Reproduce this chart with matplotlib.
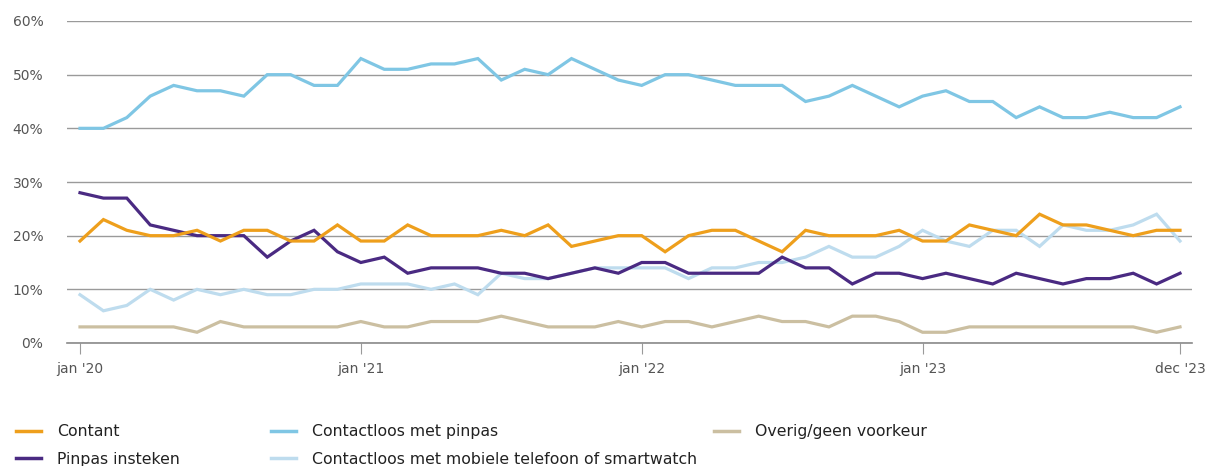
import matplotlib
matplotlib.use('Agg')
import matplotlib.pyplot as plt
from matplotlib.lines import Line2D
import numpy as np

# monthly survey, jan 2020 - dec 2023 (percent)
months = np.arange(48)
tick_pos = [0, 12, 24, 36, 47]
tick_labels = ["jan '20", "jan '21", "jan '22", "jan '23", "dec '23"]

contant = [19, 23, 21, 20, 20, 21, 19, 21, 21, 19, 19, 22, 19, 19,
           22, 20, 20, 20, 21, 20, 22, 18, 19, 20, 20, 17, 20, 21, 21, 19, 17,
           21, 20, 20, 20, 21, 19, 19, 22, 21, 20, 24, 22, 22, 21, 20, 21, 21]
pinpas_insteken = [28, 27, 27, 22, 21, 20, 20, 20, 16, 19, 21, 17, 15, 16,
                   13, 14, 14, 14, 13, 13, 12, 13, 14, 13, 15, 15, 13, 13, 13, 13, 16,
                   14, 14, 11, 13, 13, 12, 13, 12, 11, 13, 12, 11, 12, 12, 13, 11, 13]
contactloos_pinpas = [40, 40, 42, 46, 48, 47, 47, 46, 50, 50, 48, 48,
                      53, 51, 51, 52, 52, 53, 49, 51, 50, 53, 51, 49,
                      48, 50, 50, 49, 48, 48, 48, 45, 46, 48, 46, 44,
                      46, 47, 45, 45, 42, 44, 42, 42, 43, 42, 42, 44]
contactloos_mobiel = [9, 6, 7, 10, 8, 10, 9, 10, 9, 9, 10, 10, 11, 11,
                      11, 10, 11, 9, 13, 12, 12, 13, 14, 14, 14, 14, 12, 14, 14, 15, 15,
                      16, 18, 16, 16, 18, 21, 19, 18, 21, 21, 18, 22, 21, 21, 22, 24, 19]
overig = [3, 3, 3, 3, 3, 2, 4, 3, 3, 3, 3, 3, 4, 3,
          3, 4, 4, 4, 5, 4, 3, 3, 3, 4, 3, 4, 4, 3, 4, 5, 4,
          4, 3, 5, 5, 4, 2, 2, 3, 3, 3, 3, 3, 3, 3, 3, 2, 3]

series = [
    ('Contant', contant, '#EE9F1C'),
    ('Pinpas insteken', pinpas_insteken, '#4A2A82'),
    ('Contactloos met pinpas', contactloos_pinpas, '#7FC6E4'),
    ('Contactloos met mobiele telefoon of smartwatch', contactloos_mobiel, '#BEDCEE'),
    ('Overig/geen voorkeur', overig, '#CBBFA1'),
]

plt.rcParams['font.family'] = ['DejaVu Sans']
text_col = '#555555'

fig = plt.figure(figsize=(12.11, 4.66), dpi=100)
ax = fig.add_axes([67 / 1211, 1 - 343 / 466, (1192 - 67) / 1211, (343 - 21) / 466])

# draw order: back to front
for idx in [4, 3, 2, 1, 0]:
    name, vals, col = series[idx]
    ax.plot(months, vals, color=col, linewidth=2.3, solid_joinstyle='miter')

ax.set_xlim(-13 / 23.4, 47 + 12 / 23.4)
ax.set_ylim(0, 60)
ax.set_yticks(range(0, 61, 10))
ax.set_yticklabels(['%d%%' % v for v in range(0, 61, 10)])
ax.yaxis.grid(True, color='#9a9a9a', linewidth=1)
ax.set_axisbelow(True)
for s in ['top', 'right', 'left']:
    ax.spines[s].set_visible(False)
ax.spines['bottom'].set_color('#8a8a8a')
ax.spines['bottom'].set_linewidth(1.2)

ax.set_xticks(tick_pos)
ax.set_xticklabels(tick_labels)
ax.tick_params(axis='x', length=8, color='#9a9a9a', labelsize=10, labelcolor=text_col, pad=6)
ax.tick_params(axis='y', length=0, labelsize=10, labelcolor=text_col, pad=17)

# legend: three columns placed by hand
def handle(col):
    return Line2D([], [], color=col, linewidth=2.5)

cols = [([0, 1], 10), ([2, 3], 265), ([4], 708)]
for members, xpix in cols:
    fig.legend([handle(series[i][2]) for i in members],
               [series[i][0] for i in members],
               loc='upper left', bbox_to_anchor=(xpix / 1211, 1 - 418 / 466),
               frameon=False, fontsize=11.3, handlelength=1.6, handletextpad=1.0,
               labelspacing=0.78, labelcolor='#222222', borderaxespad=0)

fig.savefig('out.png', dpi=100)
